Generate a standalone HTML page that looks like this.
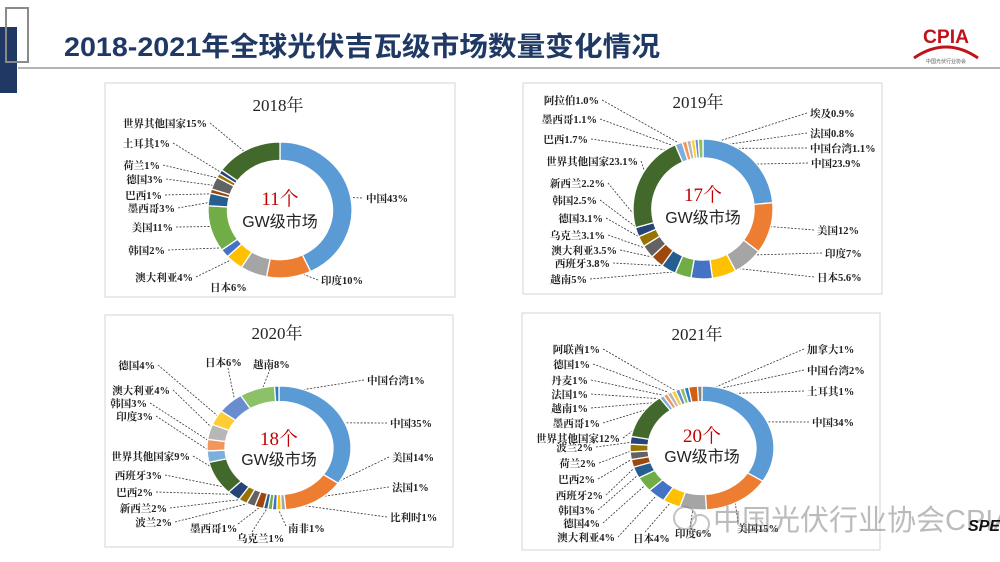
<!DOCTYPE html>
<html><head><meta charset="utf-8">
<style>
html,body{margin:0;padding:0;background:#fff;}
svg{display:block;}
.l{font-family:"Liberation Serif","Noto Serif CJK SC",serif;font-weight:bold;font-size:10.5px;fill:#222;}
.t{font-family:"Liberation Serif","Noto Serif CJK SC",serif;font-size:17px;fill:#222;}
.c1{font-family:"Liberation Serif","Noto Serif CJK SC",serif;font-size:19px;fill:#c00000;}
.c2{font-family:"Liberation Sans","Noto Sans CJK SC",sans-serif;font-size:16px;fill:#222;}
.e{text-anchor:end;}
</style></head><body>
<svg id="s" width="1000" height="562" viewBox="0 0 1000 562" xmlns="http://www.w3.org/2000/svg">
<rect width="1000" height="562" fill="#fff"/>
<rect x="0" y="27" width="17" height="66" fill="#1f3864"/>
<rect x="6" y="8" width="22" height="54" fill="none" stroke="#8a8a8a" stroke-width="2"/>
<text x="64" y="56" font-family="'Liberation Sans','Noto Sans CJK SC',sans-serif" font-weight="bold" font-size="27" fill="#1f3864" textLength="596" lengthAdjust="spacingAndGlyphs">2018-2021年全球光伏吉瓦级市场数量变化情况</text>
<line x1="18" y1="68" x2="1000" y2="68" stroke="#9a9a9a" stroke-width="1.5"/>
<text x="946" y="43" text-anchor="middle" font-family="'Liberation Sans',sans-serif" font-weight="bold" font-size="19" fill="#c0121b" textLength="46" lengthAdjust="spacingAndGlyphs">CPIA</text>
<path d="M914 58 Q946 36 978 58" fill="none" stroke="#c0121b" stroke-width="3"/>
<text x="946" y="63" text-anchor="middle" font-family="'Noto Sans CJK SC',sans-serif" font-size="5" fill="#555">中国光伏行业协会</text>

<rect x="105" y="83" width="350" height="214" fill="#fff" stroke="#d6d6d6"/>
<rect x="523" y="83" width="359" height="211" fill="#fff" stroke="#d6d6d6"/>
<rect x="105" y="315" width="348" height="232" fill="#fff" stroke="#d6d6d6"/>
<rect x="522" y="313" width="358" height="237" fill="#fff" stroke="#d6d6d6"/>

<g id="lines"></g>
<g id="segs"></g>

<text class="t" x="278" y="111" text-anchor="middle">2018年</text>
<text class="c1" x="280" y="205" text-anchor="middle">11个</text>
<text class="c2" x="280" y="227" text-anchor="middle">GW级市场</text>
<text class="l" x="366" y="202">中国43%</text>
<text class="l" x="321" y="284">印度10%</text>
<text class="l" x="210" y="291">日本6%</text>
<text class="l e" x="193" y="281">澳大利亚4%</text>
<text class="l e" x="165" y="254">韩国2%</text>
<text class="l e" x="173" y="231">美国11%</text>
<text class="l e" x="175" y="212">墨西哥3%</text>
<text class="l e" x="162" y="199">巴西1%</text>
<text class="l e" x="163" y="183">德国3%</text>
<text class="l e" x="160" y="169">荷兰1%</text>
<text class="l e" x="170" y="147">土耳其1%</text>
<text class="l e" x="207" y="127">世界其他国家15%</text>

<text class="t" x="698" y="108" text-anchor="middle">2019年</text>
<text class="c1" x="703" y="201" text-anchor="middle">17个</text>
<text class="c2" x="703" y="223" text-anchor="middle">GW级市场</text>
<text class="l" x="811" y="167">中国23.9%</text>
<text class="l" x="817" y="234">美国12%</text>
<text class="l" x="825" y="257">印度7%</text>
<text class="l" x="817" y="281">日本5.6%</text>
<text class="l" x="810" y="117">埃及0.9%</text>
<text class="l" x="810" y="137">法国0.8%</text>
<text class="l" x="810" y="152">中国台湾1.1%</text>
<text class="l e" x="587" y="283">越南5%</text>
<text class="l e" x="610" y="267">西班牙3.8%</text>
<text class="l e" x="617" y="254">澳大利亚3.5%</text>
<text class="l e" x="605" y="239">乌克兰3.1%</text>
<text class="l e" x="603" y="222">德国3.1%</text>
<text class="l e" x="597" y="204">韩国2.5%</text>
<text class="l e" x="605" y="187">新西兰2.2%</text>
<text class="l e" x="638" y="165">世界其他国家23.1%</text>
<text class="l e" x="588" y="143">巴西1.7%</text>
<text class="l e" x="597" y="123">墨西哥1.1%</text>
<text class="l e" x="599" y="104">阿拉伯1.0%</text>

<text class="t" x="277" y="339" text-anchor="middle">2020年</text>
<text class="c1" x="279" y="445" text-anchor="middle">18个</text>
<text class="c2" x="279" y="465" text-anchor="middle">GW级市场</text>
<text class="l" x="390" y="427">中国35%</text>
<text class="l" x="392" y="461">美国14%</text>
<text class="l" x="392" y="491">法国1%</text>
<text class="l" x="390" y="521">比利时1%</text>
<text class="l" x="288" y="532">南非1%</text>
<text class="l" x="237" y="542">乌克兰1%</text>
<text class="l" x="190" y="532">墨西哥1%</text>
<text class="l e" x="172" y="526">波兰2%</text>
<text class="l e" x="167" y="512">新西兰2%</text>
<text class="l e" x="153" y="496">巴西2%</text>
<text class="l e" x="162" y="479">西班牙3%</text>
<text class="l e" x="190" y="460">世界其他国家9%</text>
<text class="l e" x="153" y="420">印度3%</text>
<text class="l e" x="147" y="407">韩国3%</text>
<text class="l e" x="170" y="394">澳大利亚4%</text>
<text class="l e" x="155" y="369">德国4%</text>
<text class="l" x="205" y="366">日本6%</text>
<text class="l" x="253" y="368">越南8%</text>
<text class="l" x="367" y="384">中国台湾1%</text>

<text class="t" x="697" y="340" text-anchor="middle">2021年</text>
<text class="c1" x="702" y="442" text-anchor="middle">20个</text>
<text class="c2" x="702" y="462" text-anchor="middle">GW级市场</text>
<text class="l" x="812" y="426">中国34%</text>
<text class="l" x="737" y="532">美国15%</text>
<text class="l" x="675" y="537">印度6%</text>
<text class="l" x="633" y="542">日本4%</text>
<text class="l e" x="615" y="541">澳大利亚4%</text>
<text class="l e" x="600" y="527">德国4%</text>
<text class="l e" x="595" y="514">韩国3%</text>
<text class="l e" x="603" y="499">西班牙2%</text>
<text class="l e" x="595" y="483">巴西2%</text>
<text class="l e" x="596" y="467">荷兰2%</text>
<text class="l e" x="593" y="451">波兰2%</text>
<text class="l e" x="620" y="442">世界其他国家12%</text>
<text class="l e" x="600" y="427">墨西哥1%</text>
<text class="l e" x="588" y="412">越南1%</text>
<text class="l e" x="588" y="398">法国1%</text>
<text class="l e" x="588" y="384">丹麦1%</text>
<text class="l e" x="590" y="368">德国1%</text>
<text class="l e" x="600" y="353">阿联酋1%</text>
<text class="l" x="807" y="395">土耳其1%</text>
<text class="l" x="807" y="374">中国台湾2%</text>
<text class="l" x="807" y="353">加拿大1%</text>

<g opacity="0.5">
<circle cx="685" cy="518" r="11" fill="none" stroke="#888" stroke-width="2"/>
<circle cx="700" cy="524" r="9" fill="none" stroke="#888" stroke-width="2"/>
<text x="713" y="530" font-family="'Liberation Sans','Noto Sans CJK SC',sans-serif" font-size="29" fill="#7a7a7a">中国光伏行业协会CPIA</text>
</g>
<text x="968" y="531" font-family="'Liberation Sans',sans-serif" font-weight="bold" font-style="italic" font-size="16" fill="#111">SPE</text>
</svg>
<script>
var P=["#5b9bd5","#ed7d31","#a5a5a5","#ffc000","#4472c4","#70ad47","#255e91","#9e480e","#636363","#997300","#264478","#43682b","#7cafdd","#f1975a","#b7b7b7","#ffcd33","#698ed0","#8cc168","#327dc2","#d26012","#848484"];
var NS="http://www.w3.org/2000/svg";
function el(p,t,a){var e=document.createElementNS(NS,t);for(var k in a)e.setAttribute(k,a[k]);p.appendChild(e);return e;}
var SG=document.getElementById("segs"),LG=document.getElementById("lines");
function donut(cx,cy,rx,ry,ratio,segs){
 var tot=0;segs.forEach(function(s){tot+=s[0];});
 var k=ry/rx,a=0,ri=rx*ratio,rm=(rx+ri)/2;
 function pt(r,t){return [cx+r*Math.sin(t),cy-r*k*Math.cos(t)];}
 segs.forEach(function(s,i){
  var a0=a/tot*2*Math.PI;a+=s[0];var a1=a/tot*2*Math.PI;
  var lg=(a1-a0)>Math.PI?1:0;
  var p0=pt(rx,a0),p1=pt(rx,a1),q1=pt(ri,a1),q0=pt(ri,a0);
  var d="M"+p0+"A"+rx+" "+(rx*k)+" 0 "+lg+" 1 "+p1+"L"+q1+"A"+ri+" "+(ri*k)+" 0 "+lg+" 0 "+q0+"Z";
  el(SG,"path",{d:d,fill:P[i],stroke:"#fff","stroke-width":"1.3"});
  if(s.length>1){var m=pt(rm,(a0+a1)/2);
   el(LG,"line",{x1:s[1],y1:s[2],x2:m[0],y2:m[1],stroke:"#333","stroke-width":"0.8","stroke-dasharray":"2,1.5"});}
 });
}
donut(280,210,72,68,0.73,[[43,362,198],[10,318,280],[6],[4,196,277],[2,168,250],[11,176,227],[3,178,208],[1,165,195],[3,166,179],[1,163,165],[1,173,143],[15,210,123]]);
donut(703,209,70,70,0.73,[[23.9,808,163],[12,814,230],[7,822,253],[5.6,814,277],[5,590,279],[3.8,613,263],[3.5,620,250],[3.1,608,235],[3.1,606,218],[2.5,600,200],[2.2,608,183],[23.1,641,161],[1.7,591,139],[1.1,600,119],[1.0,602,100],[0.9,807,113],[0.8,807,133],[1.1,807,148]]);
donut(279,448,72,62,0.75,[[35,387,423],[14,389,457],[1,389,487],[1,387,517],[1,286,526],[1,252,532],[1,238,524],[2,175,522],[2,170,508],[2,156,492],[3,165,475],[9,193,456],[3,156,416],[3,150,403],[4,173,390],[4,158,365],[6,228,368],[8,270,369],[1,364,380]]);
donut(702,448,72,62,0.75,[[34,809,422],[15,738,522],[6,690,527],[4,645,532],[4,618,537],[4,603,523],[3,598,510],[2,606,495],[2,598,479],[2,599,463],[2,596,447],[12,623,438],[1,603,423],[1,591,408],[1,591,394],[1,591,380],[1,593,364],[1,603,349],[1,804,391],[2,804,370],[1,804,349]]);
</script>
</body></html>
